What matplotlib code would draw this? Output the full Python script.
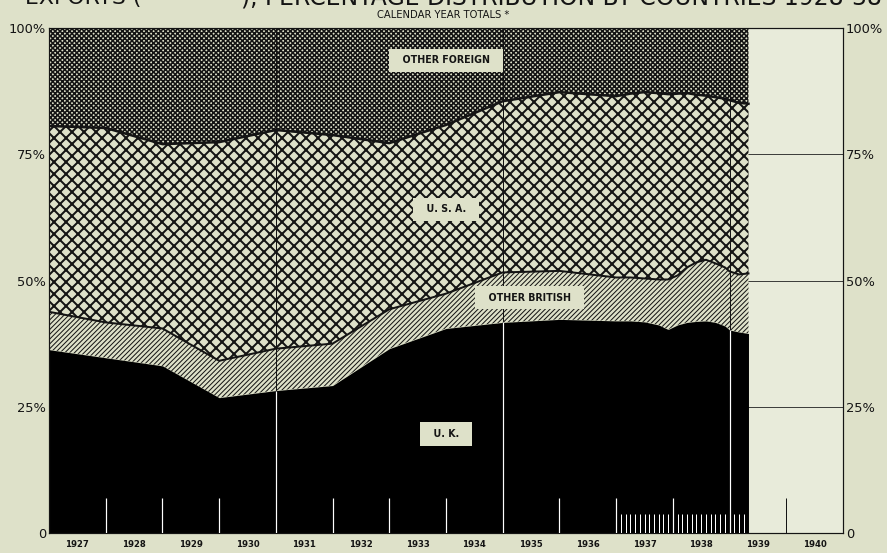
import numpy as np
import matplotlib.pyplot as plt

# annual points, plotted at the start of each calendar year
years = [1927, 1928, 1929, 1930, 1931, 1932, 1933, 1934, 1935, 1936]
# cumulative top of each band, percent of total exports
uk_top_annual = [36.3, 34.7, 33.1, 26.8, 28.2, 29.2, 36.5, 40.5, 41.7, 42.3]
british_top_annual = [43.8, 41.7, 40.5, 34.1, 36.5, 37.5, 44.3, 47.4, 51.6, 51.9]
usa_top_annual = [80.6, 80.2, 77.0, 77.4, 79.8, 78.8, 77.2, 80.8, 85.5, 87.3]

# monthly readings from Jan 1937 on (months after 1937.0)
months = [0, 3, 6, 9, 11, 13, 15, 17, 19, 21, 23, 24, 26, 28]
uk_top_monthly = [42.0, 42.0, 41.8, 41.2, 40.3, 41.2, 41.7, 41.9, 42.0, 41.7, 41.0, 40.2, 39.8, 39.5]
british_top_monthly = [50.6, 50.6, 50.4, 50.2, 50.2, 51.0, 52.6, 53.6, 54.1, 53.4, 52.6, 51.8, 51.2, 51.4]
usa_top_monthly = [86.5, 87.0, 87.3, 87.1, 86.9, 87.0, 87.1, 86.8, 86.6, 86.3, 86.0, 85.7, 85.2, 85.0]

year_labels = ['1927', '1928', '1929', '1930', '1931', '1932', '1933',
               '1934', '1935', '1936', '1937', '1938', '1939', '1940']
pct_ticks = [0, 25, 50, 75, 100]
pct_labels = ['0', '25%', '50%', '75%', '100%']

paper = '#dee1c9'
light = '#e8ebda'
ink = '#141414'

x = np.array(years + [1937 + m / 12 for m in months], dtype=float)
uk = np.array(uk_top_annual + uk_top_monthly)
brit = np.array(british_top_annual + british_top_monthly)
usa = np.array(usa_top_annual + usa_top_monthly)

fig = plt.figure(figsize=(887 / 72, 553 / 72), dpi=72, facecolor=paper)
ax = fig.add_axes([49 / 887, 20 / 553, 794 / 887, 505 / 553])
ax.set_facecolor(paper)
ax.set_xlim(1927, 1941)
ax.set_ylim(0, 100)

# empty space after the last month
ax.axvspan(x[-1], 1941, color=light, lw=0, zorder=0.5)

# grid
for y in [25, 50, 75]:
    ax.axhline(y, color=ink, lw=0.8, zorder=0.8)


def hatched(lo, hi, pattern, hlw):
    # hatch line width is picked up when the artist is made
    with plt.rc_context({'hatch.linewidth': hlw}):
        band = ax.fill_between(x, lo, hi, facecolor=paper, edgecolor=ink,
                               hatch=pattern, lw=0, zorder=1)
    if hasattr(band, 'set_hatch_linewidth'):
        band.set_hatch_linewidth(hlw)
    return band


# bands
ax.fill_between(x, 0, uk, color='black', lw=0, zorder=2)
hatched(uk, brit, '/////', 1.0)
hatched(brit, usa, 'xx', 2.0)
hatched(usa, 100, 'xxxxx', 1.6)
ax.plot(x, brit, color=ink, lw=2, zorder=3)
ax.plot(x, usa, color=ink, lw=2.5, zorder=3)

# full height lines every four years, white where they cross the black band
for v in [1931, 1935, 1939]:
    ax.axvline(v, color=ink, lw=1, zorder=1.5)
    ax.vlines(v, 0, np.interp(v, x, uk), color='white', lw=1.2, zorder=4)

# year and month ticks along the bottom
ax.vlines([1928, 1929, 1930, 1932, 1933, 1934, 1936, 1937, 1938], 0, 7,
          color='white', lw=1.2, zorder=4)
ax.vlines(1940, 0, 7, color=ink, lw=1, zorder=4)
month_ticks = [1937 + k / 12 for k in range(1, 28) if k not in (12, 24)]
ax.vlines(month_ticks, 0, 3.8, color='white', lw=1, zorder=4)

for s in ax.spines.values():
    s.set_color(ink)
    s.set_linewidth(1.2)

ax.set_yticks(pct_ticks)
ax.set_yticklabels(pct_labels)
ax.set_xticks([1927.5 + i for i in range(len(year_labels))])
ax.set_xticklabels(year_labels, fontsize=8.5, fontweight='bold')
ax.tick_params(axis='both', length=0, labelright=True, labelsize=13, colors=ink)
ax.tick_params(axis='x', labelsize=8.5, pad=7)
ax.tick_params(axis='y', pad=3)

# band names
box = dict(boxstyle='square,pad=0.7', fc=paper, ec='none')
ax.text(1934.0, 93.6, '  OTHER FOREIGN  ', ha='center', va='center', fontsize=9.5,
        fontweight='bold', color=ink, bbox=box, zorder=5)
ax.text(1934.0, 64.1, '  U. S. A.  ', ha='center', va='center', fontsize=9.5,
        fontweight='bold', color=ink, bbox=box, zorder=5)
ax.text(1935.47, 46.6, '  OTHER BRITISH  ', ha='center', va='center', fontsize=9.5,
        fontweight='bold', color=ink, bbox=box, zorder=5)
ax.text(1934.0, 19.6, '  U. K.  ', ha='center', va='center', fontsize=9.5,
        fontweight='bold', color=ink, bbox=box, zorder=5)

# title, mostly cut off at the top of the page as in the source
fig.text(25 / 887, 1 - 4 / 553, 'EXPORTS (', ha='left', va='baseline',
         fontsize=22, color=ink)
fig.text(882 / 887, 1 - 4 / 553, '), PERCENTAGE DISTRIBUTION BY COUNTRIES 1928-38',
         ha='right', va='baseline', fontsize=23.5, color=ink)
fig.text(443 / 887, 1 - 15 / 553, 'CALENDAR YEAR TOTALS *', ha='center', va='center',
         fontsize=10, color=ink)

fig.savefig('out.png', dpi=72, facecolor=paper)
